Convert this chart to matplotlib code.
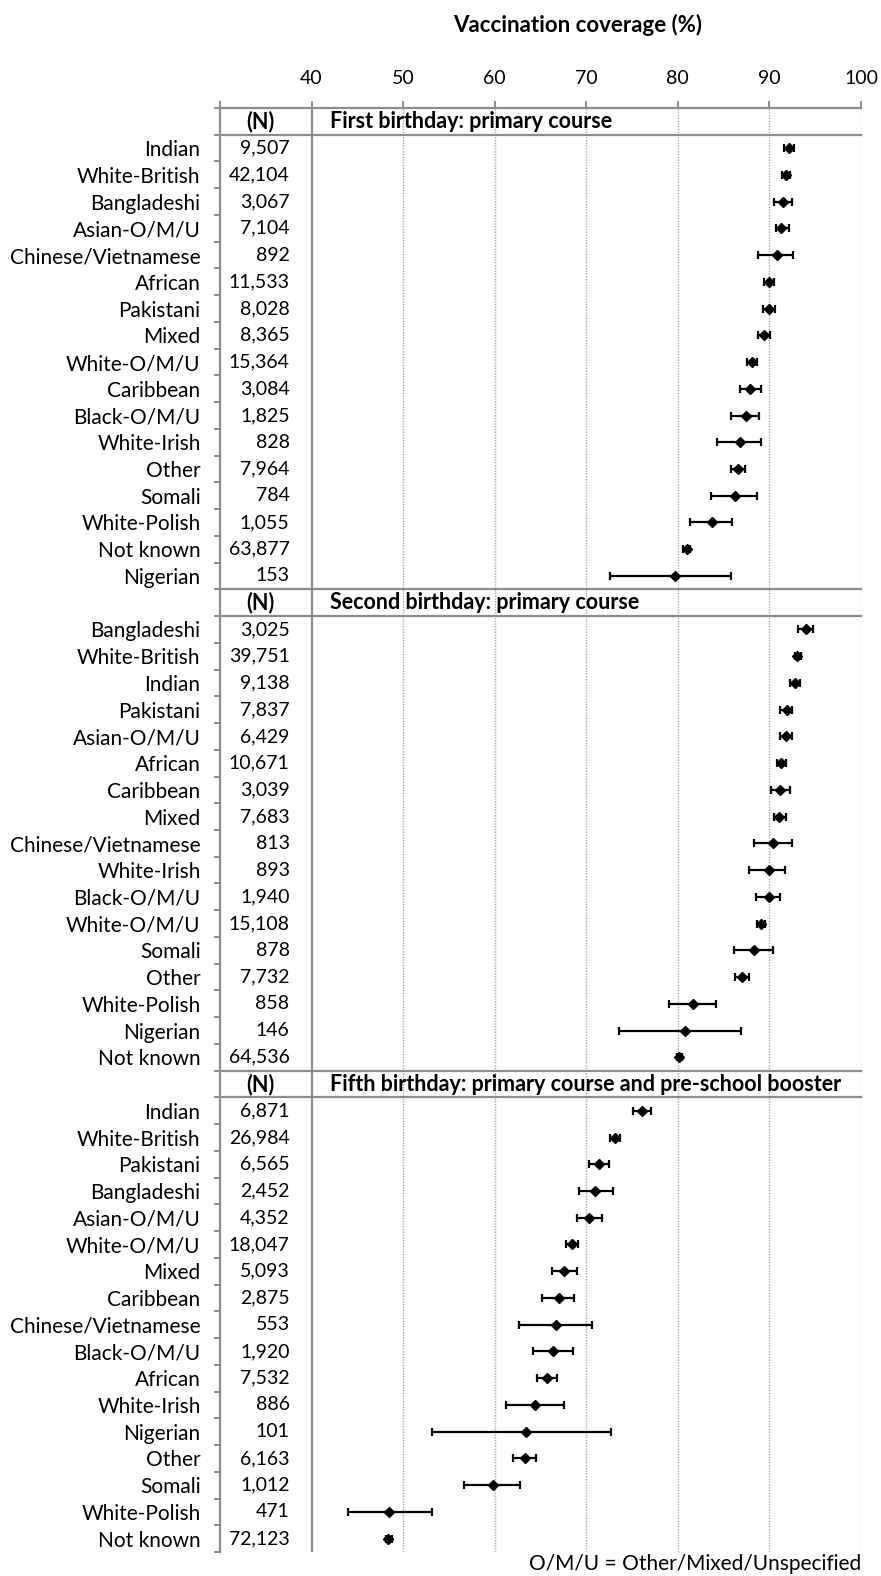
import numpy as np
import matplotlib.pyplot as plt

plt.rcParams['font.family'] = ['Lato', 'DejaVu Sans']

# panel 1: first birthday
title1 = 'First birthday: primary course'
groups1 = ['Indian', 'White-British', 'Bangladeshi', 'Asian-O/M/U', 'Chinese/Vietnamese',
           'African', 'Pakistani', 'Mixed', 'White-O/M/U', 'Caribbean', 'Black-O/M/U',
           'White-Irish', 'Other', 'Somali', 'White-Polish', 'Not known', 'Nigerian']
n1 = [9507, 42104, 3067, 7104, 892, 11533, 8028, 8365, 15364, 3084, 1825, 828, 7964,
      784, 1055, 63877, 153]
est1 = [92.1, 91.8, 91.5, 91.3, 90.8, 90.0, 89.9, 89.4, 88.1, 87.9, 87.4, 86.8, 86.6,
        86.2, 83.7, 81.0, 79.7]
lo1 = [91.6, 91.4, 90.5, 90.7, 88.7, 89.4, 89.3, 88.8, 87.6, 86.8, 85.8, 84.3, 85.8,
       83.6, 81.3, 80.6, 72.6]
hi1 = [92.7, 92.2, 92.5, 92.1, 92.6, 90.5, 90.6, 90.1, 88.6, 89.1, 88.9, 89.1, 87.3,
       88.6, 85.9, 81.3, 85.8]

# panel 2: second birthday
title2 = 'Second birthday: primary course'
groups2 = ['Bangladeshi', 'White-British', 'Indian', 'Pakistani', 'Asian-O/M/U', 'African',
           'Caribbean', 'Mixed', 'Chinese/Vietnamese', 'White-Irish', 'Black-O/M/U',
           'White-O/M/U', 'Somali', 'Other', 'White-Polish', 'Nigerian', 'Not known']
n2 = [3025, 39751, 9138, 7837, 6429, 10671, 3039, 7683, 813, 893, 1940, 15108, 878,
      7732, 858, 146, 64536]
est2 = [94.0, 93.0, 92.8, 91.9, 91.8, 91.3, 91.1, 91.0, 90.4, 89.9, 89.9, 89.1, 88.3,
        87.0, 81.7, 80.8, 80.1]
lo2 = [93.1, 92.8, 92.3, 91.2, 91.2, 90.8, 90.2, 90.5, 88.3, 87.8, 88.5, 88.6, 86.1,
       86.2, 79.0, 73.6, 79.9]
hi2 = [94.8, 93.4, 93.3, 92.5, 92.5, 91.8, 92.2, 91.8, 92.5, 91.7, 91.2, 89.5, 90.4,
       87.8, 84.2, 86.9, 80.5]

# panel 3: fifth birthday
title3 = 'Fifth birthday: primary course and pre-school booster'
groups3 = ['Indian', 'White-British', 'Pakistani', 'Bangladeshi', 'Asian-O/M/U',
           'White-O/M/U', 'Mixed', 'Caribbean', 'Chinese/Vietnamese', 'Black-O/M/U',
           'African', 'White-Irish', 'Nigerian', 'Other', 'Somali', 'White-Polish',
           'Not known']
n3 = [6871, 26984, 6565, 2452, 4352, 18047, 5093, 2875, 553, 1920, 7532, 886, 101,
      6163, 1012, 471, 72123]
est3 = [76.1, 73.1, 71.4, 71.0, 70.3, 68.4, 67.6, 67.0, 66.7, 66.4, 65.7, 64.4, 63.4,
        63.3, 59.8, 48.5, 48.4]
lo3 = [75.1, 72.6, 70.3, 69.2, 69.0, 67.8, 66.3, 65.2, 62.6, 64.2, 64.6, 61.2, 53.2,
       62.0, 56.7, 44.0, 48.1]
hi3 = [77.1, 73.7, 72.5, 72.9, 71.7, 69.1, 69.0, 68.7, 70.6, 68.5, 66.8, 67.6, 72.7,
       64.5, 62.8, 53.2, 48.8]

xticks = [30, 40, 50, 60, 70, 80, 90, 100]
xticklabels = ['', '40', '50', '60', '70', '80', '90', '100']

panels = [
    (title1, groups1, n1, est1, lo1, hi1),
    (title2, groups2, n2, est2, lo2, hi2),
    (title3, groups3, n3, est3, lo3, hi3),
]

GRAY = '#8c8c8c'
FS = 15       # row labels, footnote
FS_NUM = 14   # N column, tick labels
FS_B = 15.5   # bold panel headers

W, H = 881, 1576
fig = plt.figure(figsize=(W / 100, H / 100), dpi=100)
ax = fig.add_axes([220 / W, 1 - 1552 / H, (861 - 220) / W, (1552 - 108) / H])

ylabels = []
row = 0
for title, groups, ns, est, lo, hi in panels:
    # header row
    ax.text(34.4, row, '(N)', ha='center', va='center', fontsize=FS_B, fontweight='bold')
    ax.text(42, row, title, ha='left', va='center', fontsize=FS_B, fontweight='bold')
    ax.plot([30, 100], [row + 0.5, row + 0.5], color=GRAY, lw=1.6, zorder=2, clip_on=False)
    if row > 0:
        ax.plot([30, 100], [row - 0.5, row - 0.5], color=GRAY, lw=1.6, zorder=2, clip_on=False)
    ylabels.append('')
    ys = np.arange(row + 1, row + 1 + len(groups))
    for y, n in zip(ys, ns):
        ax.text(37.6, y, f'{n:,}', ha='right', va='center', fontsize=FS_NUM)
    est = np.array(est)
    ax.errorbar(est, ys, xerr=[est - np.array(lo), np.array(hi) - est], fmt='D',
                color='k', ms=5, capsize=3.2, elinewidth=1.6, capthick=1.6, zorder=4)
    ylabels.extend(groups)
    row += len(groups) + 1

nrows = row
for v in range(50, 101, 10):
    ax.axvline(v, color='#a6a6a6', ls=(0, (1, 1)), lw=1.0, zorder=1)
ax.axvline(40, color=GRAY, lw=1.6, zorder=2)

ax.set_xlim(30, 100)
ax.set_ylim(nrows - 0.5, -0.5)
ax.xaxis.tick_top()
ax.set_xticks(xticks)
ax.set_xticklabels(xticklabels)
ax.tick_params(axis='x', length=5, width=1.4, color=GRAY, pad=10, labelsize=FS_NUM)

ax.set_yticks(np.arange(nrows))
ax.set_yticklabels(ylabels)
ax.set_yticks(np.arange(nrows + 1) - 0.5, minor=True)
ax.tick_params(axis='y', which='major', length=0, pad=14, labelsize=FS)
ax.tick_params(axis='y', which='minor', length=4.5, width=1.4, color=GRAY)

for s in ['right', 'bottom']:
    ax.spines[s].set_visible(False)
for s in ['left', 'top']:
    ax.spines[s].set_color(GRAY)
    ax.spines[s].set_linewidth(1.6)

fig.text(578 / W, 1 - 25 / H, 'Vaccination coverage (%)', ha='center', va='center',
         fontsize=16, fontweight='bold')
fig.text(861 / W, 1 - 1564 / H, 'O/M/U = Other/Mixed/Unspecified', ha='right',
         va='center', fontsize=FS)

fig.savefig('out.png', dpi=100)
